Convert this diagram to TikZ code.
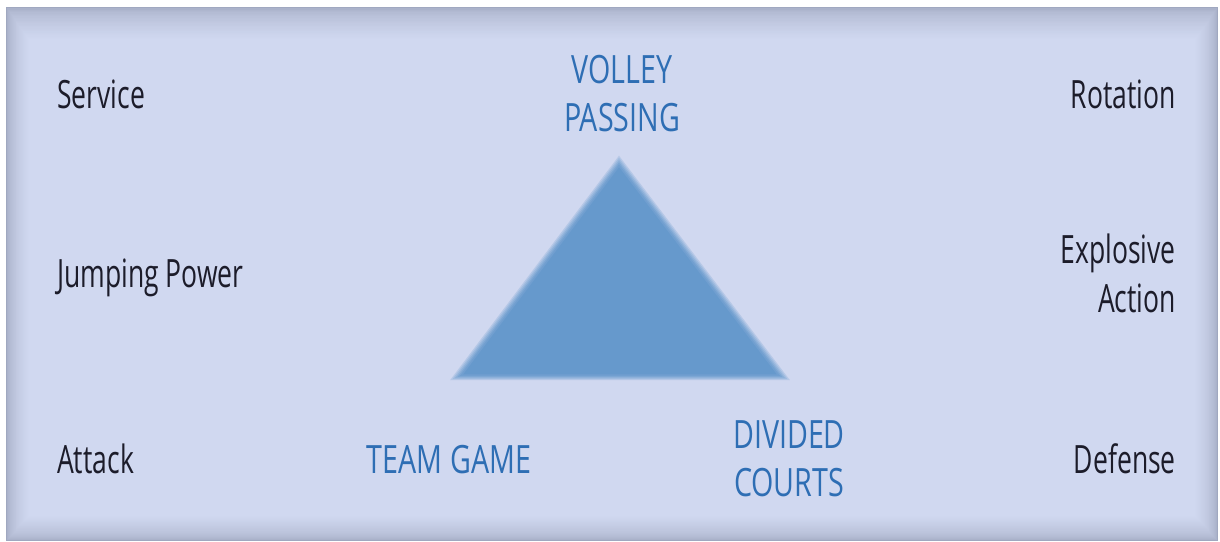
\documentclass[tikz,border=0pt]{standalone}
\usepackage{fontspec}
\setmainfont{Open Sans}[FakeStretch=0.68]
\newfontfamily\capsfont{Open Sans}[FakeStretch=0.735]
\usepackage{tikz}
\usetikzlibrary{positioning}
\definecolor{panel}{RGB}{208,216,240}
\definecolor{rim}{RGB}{160,168,192}
\definecolor{tri}{RGB}{102,153,204}
\definecolor{keyblue}{RGB}{46,110,180}
\definecolor{ink}{RGB}{28,28,42}
\tikzset{
  side/.style={inner sep=0pt, text=ink, font=\fontsize{39}{48}\selectfont},
  key/.style={inner sep=0pt, text=keyblue, font=\capsfont\fontsize{39}{48}\selectfont},
}

\begin{document}
\begin{tikzpicture}[x=1pt, y=-1pt]
	\useasboundingbox (0,0) rectangle (1220,541);
	\fill[white] (0,0) rectangle (1220,541);
	% panel with a soft inner shadow
	\foreach \i in {0,...,24}{
		\pgfmathsetmacro{\mix}{100*sqrt(\i/24)}
		\fill[panel!\mix!rim] (6+0.95*\i,7+1.35*\i) rectangle (1218-0.95*\i,541-1.05*\i);
	}
	% triangle, edges blurred
	\foreach \s/\c in {1.03/25, 1.015/45, 1.0/62, 0.985/78, 0.97/90, 0.95/100}{
		\fill[tri!\c!panel, scale around={\s:(619.7,305.3)}] (619,160) -- (455,378) -- (785,378) -- cycle;
	}
	% left column
	\node[side, anchor=base west] (service) at (57,108) {Service};
	\node[side, anchor=base west] (jumping) at (57,287) {Jumping Power};
	\node[side, anchor=base west] (attack) at (57,473) {Attack};
	% right column
	\node[side, anchor=base east] (rotation) at (1176,108) {Rotation};
	\node[side, anchor=base east] (explosive) at (1176,263) {Explosive};
	\node[side, anchor=base east] (action) at (1176,312) {Action};
	\node[side, anchor=base east] (defense) at (1176,473) {Defense};
	% corners of the triangle
	\node[key, anchor=base] (volley) at (622,83) {VOLLEY};
	\node[key, anchor=base] (passing) at (622,131) {PASSING};
	\node[key, anchor=base] (team) at (449,473) {TEAM GAME};
	\node[key, anchor=base] (divided) at (789,448) {DIVIDED};
	\node[key, anchor=base] (courts) at (789,496) {COURTS};
\end{tikzpicture}
\end{document}
